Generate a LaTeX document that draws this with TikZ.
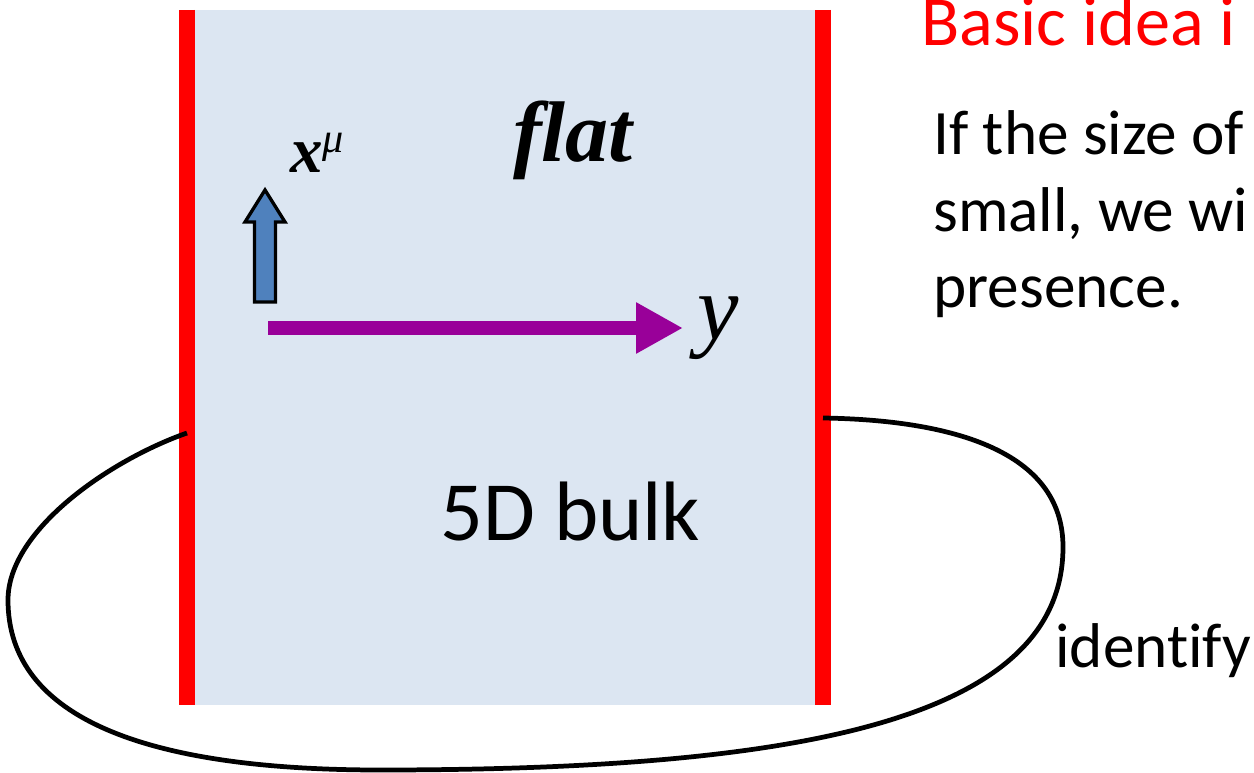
\documentclass[tikz,border=0pt]{standalone}
\usepackage{fontspec}
\setmainfont{Carlito}[Ligatures=NoCommon]
\newfontfamily\timesrm{Liberation Serif}
\usepackage{xcolor}
\usetikzlibrary{positioning,arrows.meta}
\definecolor{bulkblue}{HTML}{DCE6F2}
\definecolor{branered}{HTML}{FF0000}
\definecolor{ypurple}{HTML}{990099}
\definecolor{xblue}{HTML}{4F81BD}

\begin{document}
\begin{tikzpicture}[
  x=0.02cm, y=-0.02cm,
  bulk/.style={fill=bulkblue},
  brane/.style={draw=branered, line width=9.1pt},
  loopline/.style={line width=2.7pt},
  yarr/.style={-{Triangle[length=26.7pt, width=27.3pt]}, draw=ypurple, line width=8.5pt},
  xarr/.style={fill=xblue, draw=black, line width=1.9pt, line join=miter},
  txt/.style={inner sep=0pt, anchor=base west, font=\fontsize{36}{44}\selectfont},
  title/.style={txt, text=branered, font=\fontsize{40}{48}\selectfont},
  bulklabel/.style={txt, font=\fontsize{48}{58}\selectfont},
  flatlabel/.style={inner sep=0pt, anchor=base, font=\timesrm\bfseries\itshape\fontsize{49}{49}\selectfont},
  xlabel/.style={inner sep=0pt, anchor=base west, font=\timesrm\bfseries\itshape\fontsize{37}{37}\selectfont},
  ylabel/.style={inner sep=0pt, font=\timesrm\itshape\fontsize{53}{53}\selectfont}
]
\useasboundingbox (0,0) rectangle (1254,773);
\clip (0,0) rectangle (1254,773);
% the 5D bulk between the two branes
\coordinate (lt) at (187,10);  \coordinate (lb) at (187,705);
\coordinate (rt) at (823,10);  \coordinate (rb) at (823,705);
\fill[bulk] (lt) rectangle (rb);
\draw[brane] (lt) -- (lb);
\draw[brane] (rt) -- (rb);
% identification of the two ends
\coordinate (lmid) at (187,433);
\coordinate (rmid) at (823,418);
\draw[loopline] (lmid) .. controls (110,460) and (8,530) .. (8,600)
  .. controls (8,720) and (150,770) .. (380,770)
  .. controls (800,770) and (1063,720) .. (1063,547)
  .. controls (1063,450) and (950,420) .. (rmid);
% directions
\coordinate (xfoot) at (265,302);
\draw[xarr] (xfoot) +(-10.5,0) -- +(-10.5,-80) -- +(-20,-80) -- +(0,-112)
  -- +(20,-80) -- +(10.5,-80) -- +(10.5,0) -- cycle;
\node[xlabel] (xmu) at (290,173) {x\raisebox{11.4pt}{\fontsize{24}{24}\selectfont\mdseries μ}};
\coordinate (ytail) at (268,328);
\coordinate (yhead) at (683,328);
\draw[yarr] (ytail) -- (yhead);
\node[ylabel, right=8pt of yhead] (ylab) {y};
\node[flatlabel] (flat) at (573,162) {flat};
\node[bulklabel] (bulk) at (440,540) {5D bulk};
% text on the right
\node[title] (idea) at (921,46) {Basic idea i};
\node[txt] (line1) at (933,155) {If the size of};
\node[txt] (line2) at (933,232) {small, we wi};
\node[txt] (line3) at (933,308) {presence.};
\node[txt] (ident) at (1055,667) {identify};
\end{tikzpicture}
\end{document}
